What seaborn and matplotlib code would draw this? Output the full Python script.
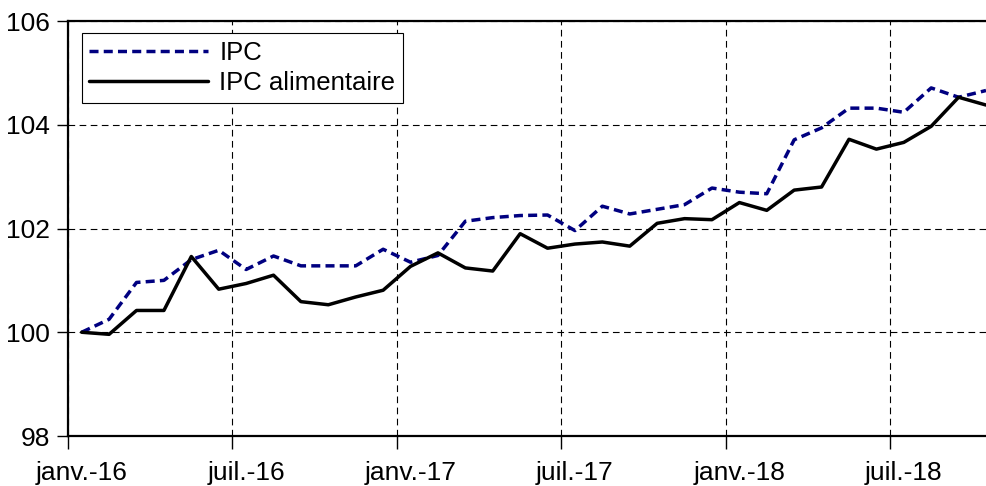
import numpy as np
import pandas as pd
import matplotlib
matplotlib.use("Agg")
import matplotlib.pyplot as plt
import seaborn as sns

# monthly index values, janv.-16 .. oct.-18 (base 100 = janv.-16)
ipc = [100.0, 100.25, 100.96, 101.0, 101.4, 101.58, 101.21, 101.47, 101.28, 101.28,
       101.28, 101.6, 101.35, 101.48, 102.14, 102.21, 102.25, 102.26, 101.96, 102.43,
       102.28, 102.37, 102.46, 102.78, 102.7, 102.67, 103.71, 103.94, 104.32, 104.32,
       104.24, 104.71, 104.53, 104.66]
ipc_alim = [100.0, 99.96, 100.42, 100.42, 101.46, 100.83, 100.94, 101.1, 100.59, 100.53,
            100.68, 100.81, 101.27, 101.53, 101.24, 101.18, 101.9, 101.62, 101.7, 101.74,
            101.66, 102.1, 102.19, 102.17, 102.5, 102.35, 102.74, 102.8, 103.72, 103.53,
            103.66, 103.97, 104.53, 104.38]
tick_labels = ["janv.-16", "juil.-16", "janv.-17", "juil.-17", "janv.-18", "juil.-18"]
y_ticks = [98, 100, 102, 104, 106]

n = len(ipc)
# category axis: points sit in the middle of each month slot
pos = np.arange(n) + 0.5
df = pd.DataFrame({
    "pos": np.concatenate([pos, pos]),
    "val": ipc + ipc_alim,
    "serie": ["IPC"] * n + ["IPC alimentaire"] * n,
})

sns.set_theme(style="white")
plt.rcParams["font.family"] = ["Liberation Sans", "DejaVu Sans"]
plt.rcParams["text.color"] = "black"
plt.rcParams["xtick.color"] = "black"
plt.rcParams["ytick.color"] = "black"

fig = plt.figure(figsize=(9.86, 4.86), dpi=100)
ax = fig.add_axes([68 / 986, 50 / 486, 918 / 986, 415 / 486])

sns.lineplot(data=df, x="pos", y="val", hue="serie", style="serie",
             palette={"IPC": "#000080", "IPC alimentaire": "black"},
             dashes={"IPC": (2.6, 1.5), "IPC alimentaire": ""},
             linewidth=2.5, ax=ax, legend=True)

ax.set_xlim(0, 33.5)
ax.set_ylim(98, 106)
ax.set_xlabel("")
ax.set_ylabel("")

# ticks and gridlines on the slot boundaries, labels centred on the slots
ax.set_xticks(np.arange(0, n, 6))
ax.set_xticklabels([])
ax.set_xticks(np.arange(0, n, 6) + 0.5, minor=True)
ax.set_xticklabels(tick_labels, minor=True)
ax.tick_params(axis="x", which="major", direction="out", length=9, width=1,
               bottom=True)
ax.tick_params(axis="x", which="minor", length=0, pad=18, labelsize=19, bottom=True)
ax.set_yticks(y_ticks)
ax.tick_params(axis="y", direction="out", length=8, width=1, pad=5,
               labelsize=19, left=True)

ax.grid(True, which="major", color="black", linestyle=(0, (6, 4)), linewidth=0.8)

for side in ["left", "bottom", "top"]:
    ax.spines[side].set_color("black")
    ax.spines[side].set_linewidth(1.6)
ax.spines["right"].set_visible(False)

leg = ax.legend(loc="upper left", bbox_to_anchor=(0.015, 0.971), borderaxespad=0,
                fontsize=18.5, handlelength=4.6, handletextpad=0.45, frameon=True,
                fancybox=False, framealpha=1, edgecolor="black", borderpad=0.3,
                labelspacing=0.25)
leg.get_frame().set_linewidth(0.8)

fig.savefig("out.png", dpi=100)
